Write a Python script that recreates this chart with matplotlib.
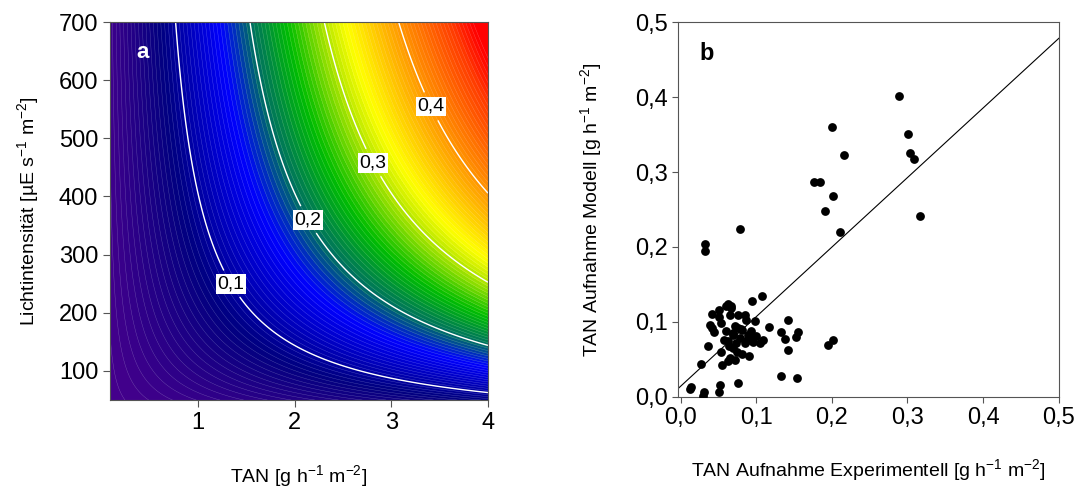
import numpy as np
import matplotlib.pyplot as plt
from matplotlib.colors import LinearSegmentedColormap
from matplotlib.ticker import FuncFormatter

plt.rcParams['font.family'] = ['Liberation Sans', 'DejaVu Sans']
plt.rcParams['mathtext.fontset'] = 'custom'
plt.rcParams['mathtext.rm'] = 'Liberation Sans'
plt.rcParams['mathtext.default'] = 'regular'
plt.rcParams['font.size'] = 14

# panel a: model surface, uptake = TAN * g_max * L / (K_L + L)
tan_range = [0.09, 4.0]
light_range = [50, 700]
g_max = 0.222
k_light = 495.0
main_levels = [0.1, 0.2, 0.3, 0.4]
label_pos = [(1.33, 248), (2.13, 359), (2.8, 457), (3.4, 554)]

# colour stops (value, colour)
cmap_vals = [0.0, 0.08, 0.16, 0.20, 0.25, 0.30, 0.33, 0.40, 0.47, 0.50]
cmap_cols = ['#46008c', '#000080', '#0000ff', '#006e64', '#00be00',
             '#b4e600', '#ffff00', '#ff9600', '#ff3c00', '#ff0000']

# panel b: model vs experiment
exp_vals = [0.289, 0.2004, 0.301, 0.216, 0.303, 0.308, 0.176, 0.185, 0.202, 0.191,
            0.316, 0.211, 0.079, 0.033, 0.033, 0.1075, 0.094, 0.063, 0.0665, 0.0595,
            0.067, 0.0507, 0.0414, 0.0656, 0.076, 0.0846, 0.0515, 0.099, 0.142, 0.0868,
            0.039, 0.042, 0.117, 0.054, 0.133, 0.155, 0.0436, 0.0758, 0.0815, 0.060,
            0.0934, 0.069, 0.089, 0.100, 0.109, 0.153, 0.138, 0.057, 0.0626, 0.0736,
            0.0855, 0.0956, 0.1044, 0.2013, 0.1947, 0.0357, 0.069, 0.1419, 0.0533, 0.0815,
            0.090, 0.0656, 0.072, 0.0634, 0.0546, 0.0269, 0.133, 0.1546, 0.0762, 0.0524,
            0.0145, 0.0119, 0.0313, 0.0515, 0.0295, 0.072, 0.080, 0.078, 0.070, 0.086,
            0.092, 0.064, 0.074]
mod_vals = [0.401, 0.360, 0.351, 0.323, 0.326, 0.317, 0.286, 0.287, 0.268, 0.248,
            0.241, 0.220, 0.224, 0.204, 0.194, 0.135, 0.128, 0.124, 0.1216, 0.1216,
            0.118, 0.116, 0.111, 0.1096, 0.1096, 0.1096, 0.1065, 0.1007, 0.102, 0.102,
            0.096, 0.092, 0.0932, 0.0985, 0.086, 0.086, 0.087, 0.0918, 0.0896, 0.0874,
            0.0874, 0.085, 0.083, 0.081, 0.0763, 0.080, 0.077, 0.0754, 0.0741, 0.0719,
            0.0719, 0.0728, 0.0719, 0.0763, 0.0697, 0.0674, 0.0652, 0.063, 0.0594, 0.0577,
            0.055, 0.0519, 0.0488, 0.0475, 0.0421, 0.0444, 0.0284, 0.0253, 0.0182, 0.0164,
            0.0133, 0.0106, 0.0071, 0.0071, 0.0009, 0.095, 0.090, 0.078, 0.082, 0.074,
            0.078, 0.068, 0.060]
fit_intercept = 0.0142
fit_slope = 0.928


def comma(v, pos):
    return '{:.1f}'.format(v).replace('.', ',')


fig = plt.figure(figsize=(10.76, 4.88), dpi=100)
ax1 = fig.add_axes([0.1022, 0.1803, 0.3513, 0.7746])
ax2 = fig.add_axes([0.630, 0.1865, 0.354, 0.7684])

# --- panel a
T, L = np.meshgrid(np.linspace(tan_range[0], tan_range[1], 400),
                   np.linspace(light_range[0], light_range[1], 400))
Z = T * g_max * L / (k_light + L)
stops = [v / cmap_vals[-1] for v in cmap_vals]
cmap = LinearSegmentedColormap.from_list('sp', list(zip(stops, cmap_cols)))
fine = np.arange(0, 0.5001, 0.005)
ax1.contourf(T, L, Z, levels=fine, cmap=cmap, vmin=0, vmax=0.5, extend='max')
ax1.contour(T, L, Z, levels=fine, colors='white', linewidths=0.3, alpha=0.3)
cs = ax1.contour(T, L, Z, levels=main_levels, colors='white', linewidths=1.0)
lbls = ax1.clabel(cs, fmt=lambda v: comma(v, None), manual=label_pos,
                  inline=True, inline_spacing=2, fontsize=14, colors='black')
for t in lbls:
    t.set_rotation(0)
    t.set_bbox(dict(facecolor='white', edgecolor='none', pad=1))
ax1.set_xlim(tan_range)
ax1.set_ylim(light_range)
ax1.set_xticks([1, 2, 3, 4])
ax1.set_yticks([100, 200, 300, 400, 500, 600, 700])
ax1.tick_params(direction='out', length=5, color='#555555', labelsize=17)
ax1.set_xlabel('TAN [g h$^{-1}$ m$^{-2}$]', labelpad=21)
ax1.set_ylabel('Lichtintensität [µE s$^{-1}$ m$^{-2}$]', labelpad=13)
ax1.text(0.085, 0.92, 'a', transform=ax1.transAxes, color='white',
         fontweight='bold', fontsize=16, ha='center', va='center')
for s in ax1.spines.values():
    s.set_color('#555555')

# --- panel b
ax2.scatter(exp_vals, mod_vals, s=40, color='black', zorder=3, linewidths=0)
xf = np.array([-0.0035, 0.5])
ax2.plot(xf, fit_intercept + fit_slope * xf, color='black', linewidth=0.8)
ax2.set_xlim(-0.0035, 0.5)
ax2.set_ylim(0, 0.5)
ax2.set_xticks(np.arange(0, 0.51, 0.1))
ax2.set_yticks(np.arange(0, 0.51, 0.1))
ax2.xaxis.set_major_formatter(FuncFormatter(comma))
ax2.yaxis.set_major_formatter(FuncFormatter(comma))
ax2.tick_params(direction='out', length=4, color='#555555', labelsize=17)
ax2.set_xlabel('TAN Aufnahme Experimentell [g h$^{-1}$ m$^{-2}$]', labelpad=20)
ax2.set_ylabel('TAN Aufnahme Modell [g h$^{-1}$ m$^{-2}$]', labelpad=22)
ax2.text(0.076, 0.917, 'b', transform=ax2.transAxes, color='black',
         fontweight='bold', fontsize=17, ha='center', va='center')
for s in ax2.spines.values():
    s.set_color('#555555')

fig.savefig('out.png', dpi=100)
